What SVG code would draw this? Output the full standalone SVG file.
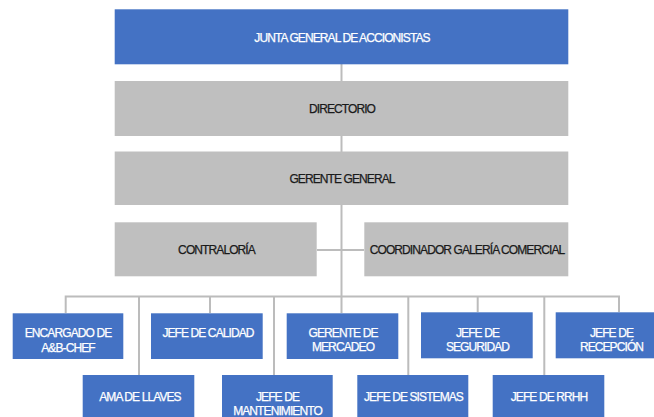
<svg xmlns="http://www.w3.org/2000/svg" width="654" height="417" viewBox="0 0 654 417">
<style>
.blue{fill:#4472C4}
.gray{fill:#BFBFBF}
.t{font-family:"Liberation Sans",Arial,sans-serif;font-size:12px;letter-spacing:-0.9px;text-anchor:middle;stroke-width:0.25}
.w{fill:#FFFFFF;stroke:#FFFFFF}
.k{fill:#1A1A1A;stroke:#1A1A1A}
.c{fill:none;stroke:#BCBCBC;stroke-width:2}
</style>
<rect width="654" height="417" fill="#FFFFFF"/>
<g id="connectors">
<path class="c" d="M341.5 64V297"/>
<path class="c" d="M317 250H364"/>
<path class="c" d="M65.7 313V296.5H619V312"/>
<path class="c" d="M139 296.5V375M210 296.5V313M274 296.5V375M341.5 296.5V313M408.3 296.5V375M477.7 296.5V312M544.3 296.5V375"/>
</g>
<g id="junta">
<rect class="blue" x="114.7" y="9.3" width="453.6" height="55"/>
<text class="t w" x="342" y="41.5">JUNTA GENERAL DE ACCIONISTAS</text>
</g>
<g id="directorio">
<rect class="gray" x="114.7" y="81" width="453.6" height="55"/>
<text class="t k" x="342" y="112.5">DIRECTORIO</text>
</g>
<g id="gerente-general">
<rect class="gray" x="114.7" y="151.5" width="453.6" height="53.5"/>
<text class="t k" x="342" y="182.5">GERENTE GENERAL</text>
</g>
<g id="contraloria">
<rect class="gray" x="114.7" y="222.3" width="202" height="54"/>
<text class="t k" x="216.5" y="253.5">CONTRALORÍA</text>
</g>
<g id="coordinador">
<rect class="gray" x="364.3" y="222.3" width="204" height="54"/>
<text class="t k" x="467" y="253.5">COORDINADOR GALERÍA COMERCIAL</text>
</g>
<g id="encargado">
<rect class="blue" x="12.7" y="313.3" width="110.6" height="45.7"/>
<text class="t w" x="68" y="337">ENCARGADO DE</text>
<text class="t w" x="68" y="351.5">A&amp;B-CHEF</text>
</g>
<g id="jefe-calidad">
<rect class="blue" x="151" y="313.3" width="111.7" height="45.7"/>
<text class="t w" x="208" y="337">JEFE DE CALIDAD</text>
</g>
<g id="gerente-mercadeo">
<rect class="blue" x="286.7" y="313.3" width="111.6" height="45.7"/>
<text class="t w" x="343" y="337">GERENTE DE</text>
<text class="t w" x="343" y="351">MERCADEO</text>
</g>
<g id="jefe-seguridad">
<rect class="blue" x="421" y="312.3" width="111.7" height="46"/>
<text class="t w" x="477.5" y="336.5">JEFE DE</text>
<text class="t w" x="477.5" y="351">SEGURIDAD</text>
</g>
<g id="jefe-recepcion">
<rect class="blue" x="555.7" y="312.3" width="111" height="46"/>
<text class="t w" x="611.5" y="336.5">JEFE DE</text>
<text class="t w" x="611.5" y="351">RECEPCIÓN</text>
</g>
<g id="ama-llaves">
<rect class="blue" x="82.7" y="375" width="111.6" height="46"/>
<text class="t w" x="140" y="401">AMA DE LLAVES</text>
</g>
<g id="jefe-mantenimiento">
<rect class="blue" x="222" y="375" width="110.7" height="46"/>
<text class="t w" x="277.5" y="400.5">JEFE DE</text>
<text class="t w" x="277.5" y="414.5">MANTENIMIENTO</text>
</g>
<g id="jefe-sistemas">
<rect class="blue" x="357.3" y="375" width="111" height="46"/>
<text class="t w" x="413.5" y="401">JEFE DE SISTEMAS</text>
</g>
<g id="jefe-rrhh">
<rect class="blue" x="492.7" y="375" width="111.6" height="46"/>
<text class="t w" x="549" y="400.5">JEFE DE RRHH</text>
</g>
</svg>
